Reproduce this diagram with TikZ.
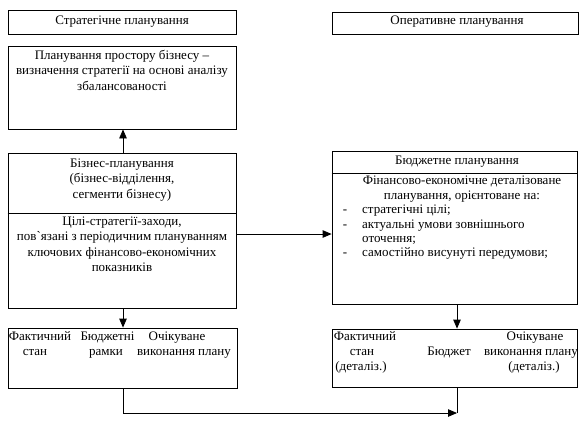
\documentclass[tikz,border=0pt]{standalone}
\usepackage{fontspec}
\setmainfont{Liberation Serif}
\usetikzlibrary{arrows.meta}
\begin{document}
\begin{tikzpicture}[x=1pt,y=-1pt,
 box/.style={draw,line width=0.8pt,inner sep=0pt},
 txt/.style={inner sep=0pt,font=\fontsize{13}{15.5}\selectfont,align=center},
 arr/.style={line width=0.8pt,-{Triangle[length=9pt,width=7.5pt]}},
 ln/.style={line width=0.8pt}]
\useasboundingbox (0,0) rectangle (588,421);
% boxes
\node[box,minimum width=228pt,minimum height=24pt] (stratT) at (122,22) {};
\node[box,minimum width=228pt,minimum height=83pt] (space) at (122,87.5) {};
\node[box,minimum width=228pt,minimum height=155pt] (biz) at (122,230.5) {};
\node[box,minimum width=229pt,minimum height=60pt] (factL) at (122.5,358) {};
\node[box,minimum width=246pt,minimum height=22pt] (operT) at (455,23) {};
\node[box,minimum width=245pt,minimum height=153pt] (budget) at (454.5,227.5) {};
\node[box,minimum width=245pt,minimum height=58pt] (factR) at (454.5,358) {};
% dividers
\draw[ln] (biz.west |- 0,213) -- (biz.east |- 0,213);
\draw[ln] (budget.west |- 0,173) -- (budget.east |- 0,173);
% texts
\node[txt,anchor=base] (t1) at (122,24) {Стратегічне планування};
\node[txt,anchor=base] (t2) at (457,24) {Оперативне планування};
\node[txt,anchor=north] (t3) at (122,49.5) {Планування простору бізнесу –\\визначення стратегії на основі аналізу\\збалансованості};
\node[txt,anchor=north] (t4) at (122,158.5) {Бізнес-планування\\(бізнес-відділення,\\сегменти бізнесу)};
\node[txt,anchor=north] (t5) at (122,216.5) {Цілі-стратегії-заходи,\\пов\textasciigrave язані з періодичним плануванням\\ключових фінансово-економічних\\показників};
\node[txt,anchor=base] (t6) at (457,164.5) {Бюджетне планування};
\node[txt,anchor=north] (t7) at (462,175.5) {Фінансово-економічне деталізоване\\планування, орієнтоване на:};
\node[txt,anchor=base] (d1) at (345,213.5) {-};
\node[txt,anchor=base] (d2) at (345,228.5) {-};
\node[txt,anchor=base] (d3) at (345,256.5) {-};
\node[txt,anchor=base west] (b1) at (362,213.5) {стратегічні цілі;};
\node[txt,anchor=base west] (b2) at (362,228.5) {актуальні умови зовнішнього};
\node[txt,anchor=base west] (b3) at (362,242.5) {оточення;};
\node[txt,anchor=base west] (b4) at (362,256.5) {самостійно висунуті передумови;};
% bottom left
\node[txt,anchor=base] (f1) at (40,340) {Фактичний};
\node[txt,anchor=base] (f2) at (35,355) {стан};
\node[txt,anchor=base] (f3) at (107.5,340) {Бюджетні};
\node[txt,anchor=base] (f4) at (106,355) {рамки};
\node[txt,anchor=base] (f5) at (177,340) {Очікуване};
\node[txt,anchor=base] (f6) at (184,355) {виконання плану};
% bottom right
\node[txt,anchor=base] (g1) at (365,340) {Фактичний};
\node[txt,anchor=base] (g2) at (362,355) {стан};
\node[txt,anchor=base] (g3) at (361,370) {(деталіз.)};
\node[txt,anchor=base] (g4) at (449,355) {Бюджет};
\node[txt,anchor=base] (g5) at (535,340) {Очікуване};
\node[txt,anchor=base] (g6) at (531,355) {виконання плану};
\node[txt,anchor=base] (g7) at (534,370) {(деталіз.)};
% connectors
\coordinate (merge) at (457,413);
\draw[arr] ([xshift=1pt]biz.north) -- ([xshift=1pt]space.south);
\draw[arr] ([xshift=1pt]biz.south) -- ([xshift=0.5pt]factL.north);
\draw[arr] ([yshift=-3.5pt]biz.east) -- ([yshift=-6.5pt]budget.west);
\draw[arr] ([xshift=2.5pt]budget.south) -- ([xshift=2.5pt]factR.north);
\draw[ln] ([xshift=2.5pt]factR.south) -- (merge);
\draw[arr] ([xshift=0.5pt]factL.south) |- (merge);
\end{tikzpicture}
\end{document}
